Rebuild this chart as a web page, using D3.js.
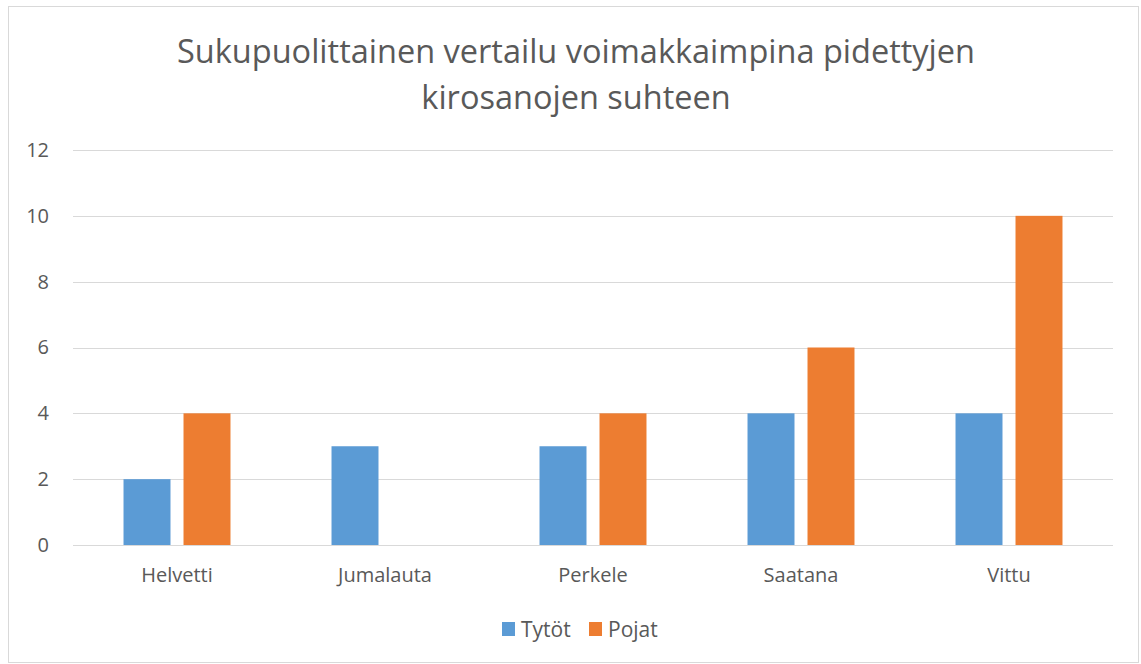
<!DOCTYPE html>
<html>
<head>
<meta charset="utf-8">
<script src="https://d3js.org/d3.v7.min.js"></script>
<style>
  body { margin: 0; background: #fff; }
  text { font-family: "Open Sans", "Liberation Sans", sans-serif; fill: #595959; }
</style>
</head>
<body>
<div id="chart"></div>
<script>
// data
var categories = ["Helvetti", "Jumalauta", "Perkele", "Saatana", "Vittu"]
var seriesNames = ["Tytöt", "Pojat"]
var tytot = [2, 3, 3, 4, 4]
var pojat = [4, 0, 4, 6, 10]
var yTicks = [0, 2, 4, 6, 8, 10, 12]
var titleLines = ["Sukupuolittainen vertailu voimakkaimpina pidettyjen", "kirosanojen suhteen"]

var colours = ["#5B9BD5", "#ED7D31"]
var gridColour = "#d9d9d9"

var width = 1141
var height = 664
var margin = { top: 150, right: 28, bottom: 119, left: 73 }

var svg = d3.select("#chart").append("svg")
  .attr("width", width)
  .attr("height", height)

// outer frame
svg.append("rect")
  .attr("x", 8.5).attr("y", 6.5)
  .attr("width", 1130).attr("height", 656)
  .attr("fill", "white")
  .attr("stroke", "#d9d9d9")

// title
svg.append("text")
  .attr("x", 576).attr("y", 63)
  .attr("text-anchor", "middle")
  .style("font-size", "32.5px")
  .selectAll("tspan")
  .data(titleLines)
  .enter().append("tspan")
  .attr("x", 576)
  .attr("dy", function (d, i) { return i === 0 ? 0 : 46 })
  .text(function (d) { return d })

var x0 = d3.scaleBand()
  .domain(categories)
  .range([margin.left, width - margin.right])

var x1 = d3.scaleBand()
  .domain(seriesNames)
  .range([0, x0.bandwidth()])
  .paddingInner(0.217)
  .paddingOuter(0.842)

var y = d3.scaleLinear()
  .domain([0, 12])
  .range([height - margin.bottom, margin.top])

// gridlines
svg.append("g")
  .selectAll("line")
  .data(yTicks)
  .enter().append("line")
  .attr("x1", margin.left)
  .attr("x2", width - margin.right)
  .attr("y1", function (d) { return Math.round(y(d)) + 0.5 })
  .attr("y2", function (d) { return Math.round(y(d)) + 0.5 })
  .attr("stroke", gridColour)
  .attr("stroke-width", 1)

// y labels
var yAxis = svg.append("g")
  .attr("transform", "translate(" + (margin.left - 24) + ",0)")
  .call(d3.axisLeft(y).tickValues(yTicks).tickSize(0).tickPadding(0))
yAxis.select(".domain").remove()
yAxis.selectAll("text").style("font-size", "20px").attr("fill", "#595959")

// bars
var series = [tytot, pojat]
var groups = svg.append("g")
  .selectAll("g")
  .data(series)
  .enter().append("g")
  .attr("fill", function (d, i) { return colours[i] })

groups.each(function (vals, si) {
  d3.select(this).selectAll("rect")
    .data(vals)
    .enter().append("rect")
    .attr("x", function (d, i) { return x0(categories[i]) + x1(seriesNames[si]) })
    .attr("width", x1.bandwidth())
    .attr("y", function (d) { return y(d) })
    .attr("height", function (d) { return y(0) - y(d) })
})

// baseline
svg.append("line")
  .attr("x1", margin.left).attr("x2", width - margin.right)
  .attr("y1", Math.round(y(0)) + 0.5).attr("y2", Math.round(y(0)) + 0.5)
  .attr("stroke", gridColour)

// x labels
var xAxis = svg.append("g")
  .attr("transform", "translate(0," + (y(0) + 23) + ")")
  .call(d3.axisBottom(x0).tickSize(0).tickPadding(0))
xAxis.select(".domain").remove()
xAxis.selectAll("text").style("font-size", "20px").attr("fill", "#595959")

// legend
var legendItems = [
  { name: seriesNames[0], colour: colours[0], x: 502 },
  { name: seriesNames[1], colour: colours[1], x: 589 }
]
var legend = svg.append("g")
legend.selectAll("rect")
  .data(legendItems)
  .enter().append("rect")
  .attr("x", function (d) { return d.x })
  .attr("y", 622)
  .attr("width", 13).attr("height", 14)
  .attr("fill", function (d) { return d.colour })
legend.selectAll("text")
  .data(legendItems)
  .enter().append("text")
  .attr("x", function (d) { return d.x + 19 })
  .attr("y", 637)
  .style("font-size", "21px")
  .text(function (d) { return d.name })
</script>
</body>
</html>
